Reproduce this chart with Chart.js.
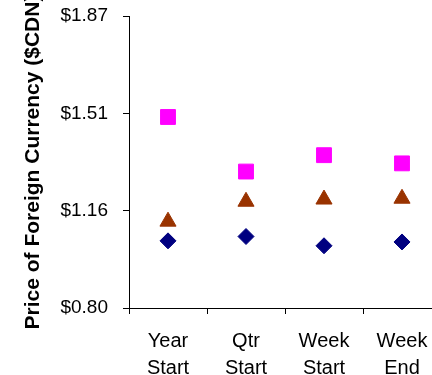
<!DOCTYPE html>
<html>
<head>
<meta charset="utf-8">
<script src="https://cdn.jsdelivr.net/npm/chart.js@4"></script>
<style>
  html, body { margin: 0; padding: 0; background: #fff; overflow: hidden; }
  #fxChart { display: block; }
</style>
</head>
<body>
<canvas id="fxChart" width="442" height="375"></canvas>
<script>
// Categories and values
const categories = [['Year', 'Start'], ['Qtr', 'Start'], ['Week', 'Start'], ['Week', 'End']];
const squareValues = [1.50, 1.30, 1.36, 1.33];
const triangleValues = [1.117, 1.19, 1.198, 1.201];
const diamondValues = [1.046, 1.062, 1.028, 1.042];
const yMin = 0.80;
const yMax = 1.87;
const yTickLabels = ['$0.80', '$1.16', '$1.51', '$1.87'];

document.addEventListener('DOMContentLoaded', function() {
    const ctx = document.getElementById('fxChart');

    function series(label, data, style, color, radius) {
        return {
            label: label,
            data: data,
            showLine: false,
            pointStyle: style,
            pointRadius: radius,
            pointHoverRadius: radius,
            backgroundColor: color,
            borderColor: color,
            borderWidth: 1
        };
    }

    new Chart(ctx, {
        type: 'line',
        data: {
            labels: categories,
            datasets: [
                series('Square', squareValues, 'rect', '#FF00FF', 10.5),
                series('Triangle', triangleValues, 'triangle', '#993300', 9.3),
                series('Diamond', diamondValues, 'rectRot', '#000080', 8)
            ]
        },
        options: {
            responsive: false,
            animation: false,
            layout: { autoPadding: false, padding: { top: 16, right: 1, left: 0, bottom: 0 } },
            plugins: {
                legend: { display: false },
                tooltip: { enabled: false }
            },
            scales: {
                x: {
                    offset: true,
                    grid: {
                        offset: true,
                        drawOnChartArea: false,
                        drawTicks: true,
                        tickLength: 6,
                        color: '#000'
                    },
                    border: { color: '#000', width: 1 },
                    ticks: {
                        color: '#000',
                        padding: 14,
                        maxRotation: 0,
                        autoSkip: false,
                        font: { family: 'Liberation Sans, Arial, sans-serif', size: 20, lineHeight: 1.34 }
                    },
                    afterFit: function(scale) {
                        scale.height = 67;
                        scale.paddingLeft = 0;
                        scale.paddingRight = 0;
                    }
                },
                y: {
                    min: yMin,
                    max: yMax,
                    afterBuildTicks: function(scale) {
                        scale.ticks = yTickLabels.map(function(t, i) {
                            return { value: yMin + i * (yMax - yMin) / (yTickLabels.length - 1) };
                        });
                    },
                    grid: {
                        drawOnChartArea: false,
                        drawTicks: true,
                        tickLength: 6,
                        color: '#000'
                    },
                    border: { color: '#000', width: 1 },
                    ticks: {
                        color: '#000',
                        padding: 15,
                        font: { family: 'Liberation Sans, Arial, sans-serif', size: 19 },
                        callback: function(value, index) { return yTickLabels[index]; }
                    },
                    title: {
                        display: true,
                        text: 'Price of Foreign Currency ($CDN)',
                        color: '#000',
                        padding: { top: 21, bottom: 0 },
                        font: { family: 'Liberation Sans, Arial, sans-serif', size: 21, weight: 'bold' }
                    },
                    afterFit: function(scale) {
                        scale.width = 129;
                        scale.paddingTop = 0;
                        scale.paddingBottom = 0;
                    }
                }
            }
        }
    });
});
</script>
</body>
</html>
